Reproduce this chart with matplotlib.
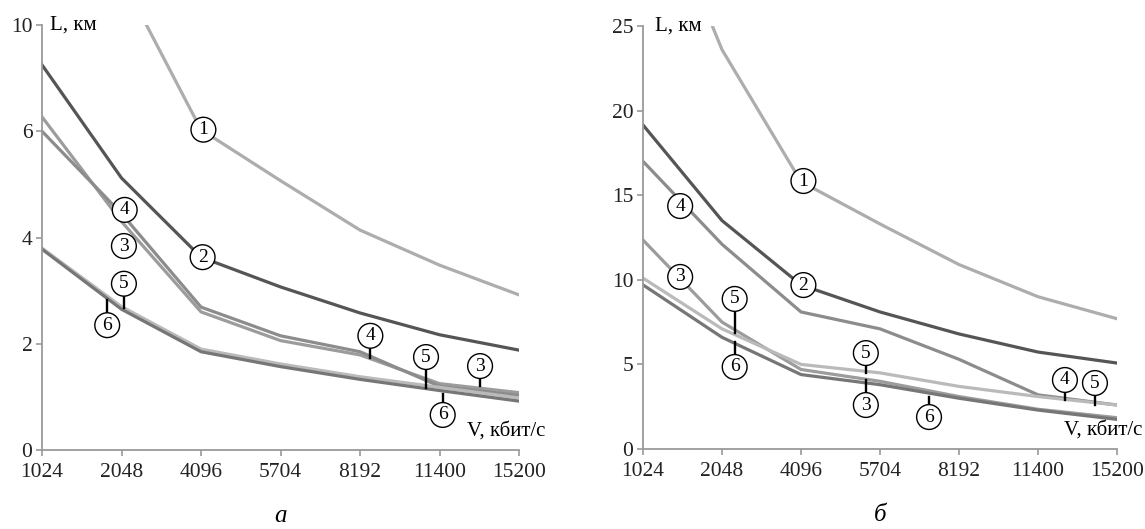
import matplotlib.pyplot as plt

plt.rcParams['font.family'] = ['Liberation Serif', 'DejaVu Serif']

# V, kbit/s - categorical axis, equally spaced
speeds = ['1024', '2048', '4096', '5704', '8192', '11400', '15200']

# panel "а": L, km (drawn on an axis whose top tick is labelled 10)
a_curve1 = [13.0, 8.9, 6.03, 5.07, 4.14, 3.48, 2.92]
a_curve2 = [7.25, 5.12, 3.63, 3.07, 2.58, 2.17, 1.88]
a_curve3 = [6.27, 4.3, 2.6, 2.06, 1.79, 1.25, 1.08]
a_curve4 = [6.0, 4.45, 2.69, 2.15, 1.85, 1.2, 1.03]
a_curve5 = [3.8, 2.7, 1.9, 1.62, 1.38, 1.18, 0.98]
a_curve6 = [3.78, 2.65, 1.85, 1.57, 1.33, 1.12, 0.92]
a_yticks = [0, 2, 4, 6, 8]
a_yticklabels = ['0', '2', '4', '6', '10']

# panel "б"
b_curve1 = [35.0, 23.6, 15.8, 13.3, 10.9, 9.0, 7.7]
b_curve2 = [19.15, 13.5, 9.7, 8.1, 6.8, 5.73, 5.08]
b_curve3 = [12.35, 7.5, 4.7, 4.0, 3.1, 2.35, 1.85]
b_curve4 = [17.0, 12.1, 8.1, 7.1, 5.3, 3.2, 2.6]
b_curve5 = [10.1, 7.1, 5.0, 4.5, 3.7, 3.1, 2.6]
b_curve6 = [9.7, 6.6, 4.4, 3.8, 3.0, 2.3, 1.75]
b_yticks = [0, 5, 10, 15, 20, 25]
b_yticklabels = ['0', '5', '10', '15', '20', '25']

colors = {1: '#adadad', 2: '#555555', 3: '#9c9c9c', 4: '#8c8c8c',
          5: '#bababa', 6: '#767676'}
axis_gray = '#9a9a9a'

# curve number markers: (number, x, y, pointer y0, pointer y1)
a_marks = [(1, 2.03, 6.03, None, None), (2, 2.02, 3.63, None, None),
           (4, 1.04, 4.52, None, None), (3, 1.03, 3.84, None, None),
           (5, 1.03, 3.13, 2.88, 2.67), (6, 0.82, 2.35, 2.58, 2.83),
           (4, 4.13, 2.15, 1.92, 1.73), (5, 4.83, 1.75, 1.54, 1.17),
           (3, 5.51, 1.58, 1.37, 1.2), (6, 5.04, 0.66, 0.88, 1.05)]
b_marks = [(1, 2.03, 15.84, None, None), (2, 2.03, 9.69, None, None),
           (4, 0.47, 14.36, None, None), (3, 0.47, 10.17, None, None),
           (5, 1.16, 8.87, 8.2, 6.86), (6, 1.16, 4.85, 5.55, 6.3),
           (5, 2.82, 5.67, 5.08, 4.49), (3, 2.82, 2.6, 3.37, 4.08),
           (6, 3.62, 1.89, 2.6, 3.07), (4, 5.34, 4.08, 3.43, 2.9),
           (5, 5.72, 3.9, 3.25, 2.6)]


def draw_panel(ax, curves, ymax, yticks, yticklabels, marks, letter, lab_x, vlab_x):
    xs = range(len(speeds))
    for n, vals in curves:
        ax.plot(xs, vals, color=colors[n], lw=2.3, solid_joinstyle='round')
    ax.set_xlim(0, len(speeds) - 1)
    ax.set_ylim(0, ymax)
    ax.set_xticks(list(xs))
    ax.set_xticklabels(speeds)
    ax.set_yticks(yticks)
    ax.set_yticklabels(yticklabels)
    for s in ['top', 'right']:
        ax.spines[s].set_visible(False)
    for s in ['left', 'bottom']:
        ax.spines[s].set_color(axis_gray)
        ax.spines[s].set_linewidth(1.3)
    ax.tick_params(colors=axis_gray, labelcolor='#222222', labelsize=15.5,
                   length=4, width=1.2)
    ax.tick_params(axis='x', pad=5)
    ax.tick_params(axis='y', pad=3)
    for n, x, y, p0, p1 in marks:
        if p0 is not None:
            ax.plot([x, x], [p0, p1], color='black', lw=1.7, zorder=4)
        ax.text(x, y, str(n), ha='center', va='center', fontsize=14, zorder=5,
                bbox=dict(boxstyle='circle,pad=0.2', fc='white', ec='black', lw=1))
    ax.text(lab_x, 1.0, 'L, км', transform=ax.transAxes, ha='left', va='center',
            fontsize=15)
    ax.text(vlab_x, 0.045, 'V, кбит/с', transform=ax.transAxes, ha='right',
            va='center', fontsize=15)
    ax.text(0.5, -0.155, letter, transform=ax.transAxes, ha='center', va='center',
            fontsize=18, style='italic')


fig = plt.figure(figsize=(11.45, 5.29), dpi=100)
ax_a = fig.add_axes([0.0367, 0.1493, 0.4166, 0.8034])
ax_b = fig.add_axes([0.5616, 0.1512, 0.414, 0.7996])

draw_panel(ax_a, [(1, a_curve1), (2, a_curve2), (3, a_curve3), (4, a_curve4),
                  (5, a_curve5), (6, a_curve6)],
           8, a_yticks, a_yticklabels, a_marks, 'а', 0.017, 1.055)
draw_panel(ax_b, [(1, b_curve1), (2, b_curve2), (3, b_curve3), (4, b_curve4),
                  (5, b_curve5), (6, b_curve6)],
           25, b_yticks, b_yticklabels, b_marks, 'б', 0.025, 1.053)

fig.savefig('out.png', dpi=100)
